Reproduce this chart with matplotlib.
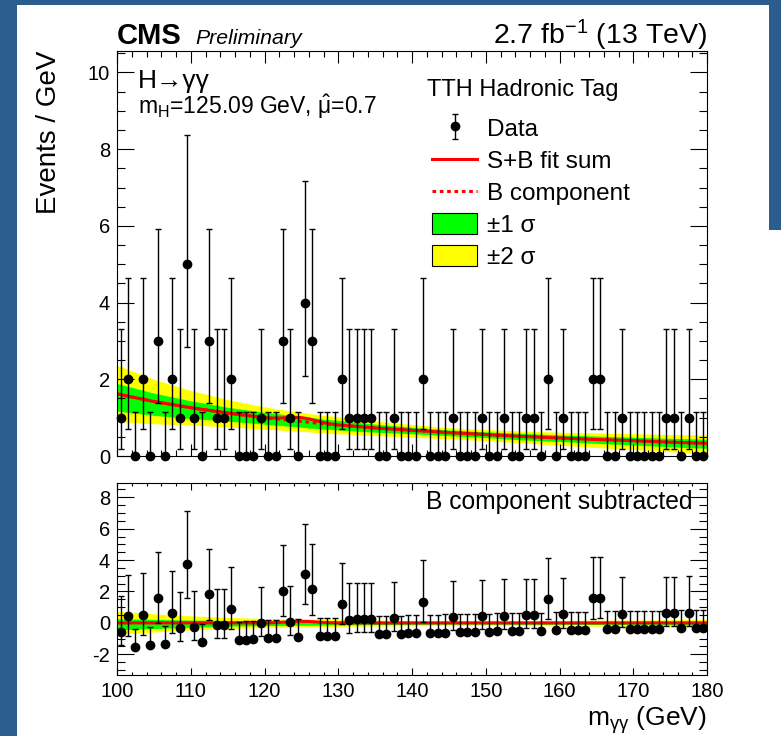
import numpy as np
import matplotlib
matplotlib.use('Agg')
import matplotlib.pyplot as plt
from matplotlib.ticker import MultipleLocator
from matplotlib.lines import Line2D
from matplotlib.patches import Patch, Rectangle

plt.rcParams['font.family'] = ['Liberation Sans', 'DejaVu Sans']
plt.rcParams['mathtext.fontset'] = 'custom'
plt.rcParams['mathtext.rm'] = 'Liberation Sans'
plt.rcParams['mathtext.it'] = 'Liberation Sans'
plt.rcParams['mathtext.bf'] = 'Liberation Sans:bold'
plt.rcParams['axes.unicode_minus'] = False

# events per 1 GeV bin, 100 -> 180 GeV
counts = [1, 2, 0, 2, 0, 3, 0, 2, 1, 5,
          1, 0, 3, 1, 1, 2, 0, 0, 0, 1,
          0, 0, 3, 1, 0, 4, 3, 0, 0, 0,
          2, 1, 1, 1, 1, 0, 0, 1, 0, 0,
          0, 2, 0, 0, 0, 1, 0, 0, 0, 1,
          0, 0, 1, 0, 0, 1, 1, 0, 2, 0,
          1, 0, 0, 0, 2, 2, 0, 0, 1, 0,
          0, 0, 0, 0, 1, 1, 0, 1, 0, 0]
# poisson error bars as drawn
err_down = {0: 0.0, 1: 0.83, 2: 1.29, 3: 1.63, 4: 1.91, 5: 2.16}
err_up = {0: 1.15, 1: 2.30, 2: 2.64, 3: 2.92, 4: 3.16, 5: 3.38}

# fit curve and bands
fit_x = [100, 105, 110, 115, 120, 121, 122, 123, 124, 125, 126, 127, 128, 129, 130,
         135, 140, 145, 150, 155, 160, 165, 170, 175, 180]
bkg = [1.62, 1.42, 1.26, 1.12, 1.00, 0.98, 0.96, 0.94, 0.92, 0.90, 0.88, 0.86, 0.84, 0.825, 0.81,
       0.73, 0.67, 0.61, 0.56, 0.51, 0.47, 0.43, 0.40, 0.36, 0.33]
sig = [0, 0, 0, 0, 0, 0.01, 0.03, 0.06, 0.09, 0.10, 0.09, 0.06, 0.03, 0.01, 0,
       0, 0, 0, 0, 0, 0, 0, 0, 0, 0]
up1 = [0.27, 0.22, 0.18, 0.15, 0.14, 0.14, 0.14, 0.13, 0.13, 0.13, 0.13, 0.13, 0.12, 0.12, 0.12,
       0.10, 0.08, 0.07, 0.07, 0.08, 0.08, 0.09, 0.09, 0.10, 0.11]
dn1 = [0.45, 0.36, 0.28, 0.21, 0.17, 0.17, 0.16, 0.16, 0.15, 0.15, 0.15, 0.14, 0.14, 0.13, 0.13,
       0.11, 0.09, 0.08, 0.08, 0.09, 0.09, 0.10, 0.11, 0.12, 0.13]
up2 = [0.75, 0.58, 0.45, 0.35, 0.28, 0.27, 0.26, 0.25, 0.25, 0.24, 0.23, 0.23, 0.22, 0.22, 0.21,
       0.18, 0.15, 0.13, 0.13, 0.14, 0.15, 0.17, 0.18, 0.20, 0.22]
dn2 = [0.72, 0.58, 0.45, 0.36, 0.30, 0.29, 0.28, 0.28, 0.27, 0.26, 0.25, 0.25, 0.24, 0.24, 0.23,
       0.20, 0.18, 0.16, 0.16, 0.17, 0.19, 0.21, 0.23, 0.25, 0.26]

x = np.arange(100.5, 180, 1.0)
n = np.array(counts)
lo = np.array([err_down[c] for c in counts])
hi = np.array([err_up[c] for c in counts])
fx = np.array(fit_x)
b = np.array(bkg)
s = np.array(sig)
resid = n - np.interp(x, fx, b)

# slide background: blue frame on the left / top, short strip on the right
fig = plt.figure(figsize=(7.81, 7.36), dpi=100, facecolor='#2b5d8f')
fig.patches.append(Rectangle((17/781, 0), 764/781, 731/736, transform=fig.transFigure,
                             facecolor='white', edgecolor='none', zorder=-2))
fig.patches.append(Rectangle((769/781, 1-230/736), 12/781, 225/736, transform=fig.transFigure,
                             facecolor='#2b5d8f', edgecolor='none', zorder=-1))

ax = fig.add_axes([117/781, 1-456/736, 590/781, 405/736])
ax1 = fig.add_axes([117/781, 1-675/736, 590/781, 192/736])

# upper panel
ax.fill_between(fx, b - np.array(dn2), b + np.array(up2), color='#ffff00', lw=0)
ax.fill_between(fx, b - np.array(dn1), b + np.array(up1), color='#00ff00', lw=0)
ax.plot(fx, b, color='red', lw=2.2, ls=(0, (1.2, 1.2)))
ax.plot(fx, b + s, color='red', lw=2.2)
eb = ax.errorbar(x, n, yerr=[lo, hi], fmt='o', color='black', ms=6, elinewidth=1,
                 capsize=2, capthick=1, clip_on=False, zorder=5)
for a in eb[1] + eb[2]:
    a.set_clip_on(False)

ax.set_xlim(100, 180)
ax.set_ylim(0, 10.56)
ax.set_ylabel('Events / GeV', fontsize=20, loc='top')
ax.yaxis.set_label_coords(-0.094, 1.0)
ax.tick_params(labelbottom=False)

ax.text(0.036, 0.955, 'H→γγ', transform=ax.transAxes, fontsize=19, va='top')
ax.text(0.036, 0.845, r'm$_{\mathrm{H}}$=125.09 GeV, $\hat{\mu}$=0.7', transform=ax.transAxes,
        fontsize=16.5, va='baseline')

handles = [eb,
           Line2D([], [], color='red', lw=2.2),
           Line2D([], [], color='red', lw=2.2, ls=(0, (1.2, 1.2))),
           Patch(facecolor='#00ff00', edgecolor='black', lw=0.8),
           Patch(facecolor='#ffff00', edgecolor='black', lw=0.8)]
labels = ['Data', 'S+B fit sum', 'B component', '±1 σ', '±2 σ']
ax.text(0.525, 0.904, 'TTH Hadronic Tag', transform=ax.transAxes, fontsize=17,
        ha='left', va='center')
leg = ax.legend(handles, labels, loc='upper left', bbox_to_anchor=(0.534, 0.837), frameon=False,
                fontsize=17.5, handlelength=1.85, handleheight=0.95, labelspacing=0.34,
                handletextpad=0.42, borderpad=0, borderaxespad=0)

# lower panel
ax1.fill_between(fx, -np.array(dn2), np.array(up2), color='#ffff00', lw=0)
ax1.fill_between(fx, -np.array(dn1), np.array(up1), color='#00ff00', lw=0)
ax1.plot(fx, s, color='red', lw=2.2)
ax1.errorbar(x, resid, yerr=[lo, hi], fmt='o', color='black', ms=6, elinewidth=1,
             capsize=2, capthick=1, zorder=5)
ax1.set_xlim(100, 180)
ax1.set_ylim(-3.32, 8.91)
ax1.text(0.975, 0.9, 'B component subtracted', transform=ax1.transAxes, fontsize=17.7,
         ha='right', va='center')
ax1.set_xlabel(r'm$_{\gamma\gamma}$ (GeV)', fontsize=19, loc='right')
ax1.xaxis.set_label_coords(1.0, -0.15)
ax1.xaxis.label.set_va('top')

for a, xl in ((ax, 8.6), (ax1, 5)):
    a.xaxis.set_major_locator(MultipleLocator(10))
    a.xaxis.set_minor_locator(MultipleLocator(2))
    a.yaxis.set_major_locator(MultipleLocator(2))
    a.yaxis.set_minor_locator(MultipleLocator(0.5))
    a.tick_params(which='both', direction='in', top=True, right=True, width=0.8,
                  labelsize=14.5, pad=5)
    a.tick_params(axis='y', which='major', length=12)
    a.tick_params(axis='y', which='minor', length=6)
    a.tick_params(axis='x', which='major', length=xl)
    a.tick_params(axis='x', which='minor', length=xl/2)
    for sp in a.spines.values():
        sp.set_linewidth(0.8)

fig.text(117/781, 1-44/736, 'CMS', fontsize=21, fontweight='bold', ha='left', va='baseline')
fig.text(195/781, 1-44/736, 'Preliminary', fontsize=15.3, style='italic', ha='left', va='baseline')
fig.text(707/781, 1-44/736, r'2.7 fb$^{-1}$ (13 TeV)', fontsize=20.5, ha='right', va='baseline')

fig.savefig('out.png', dpi=100, facecolor=fig.get_facecolor())
